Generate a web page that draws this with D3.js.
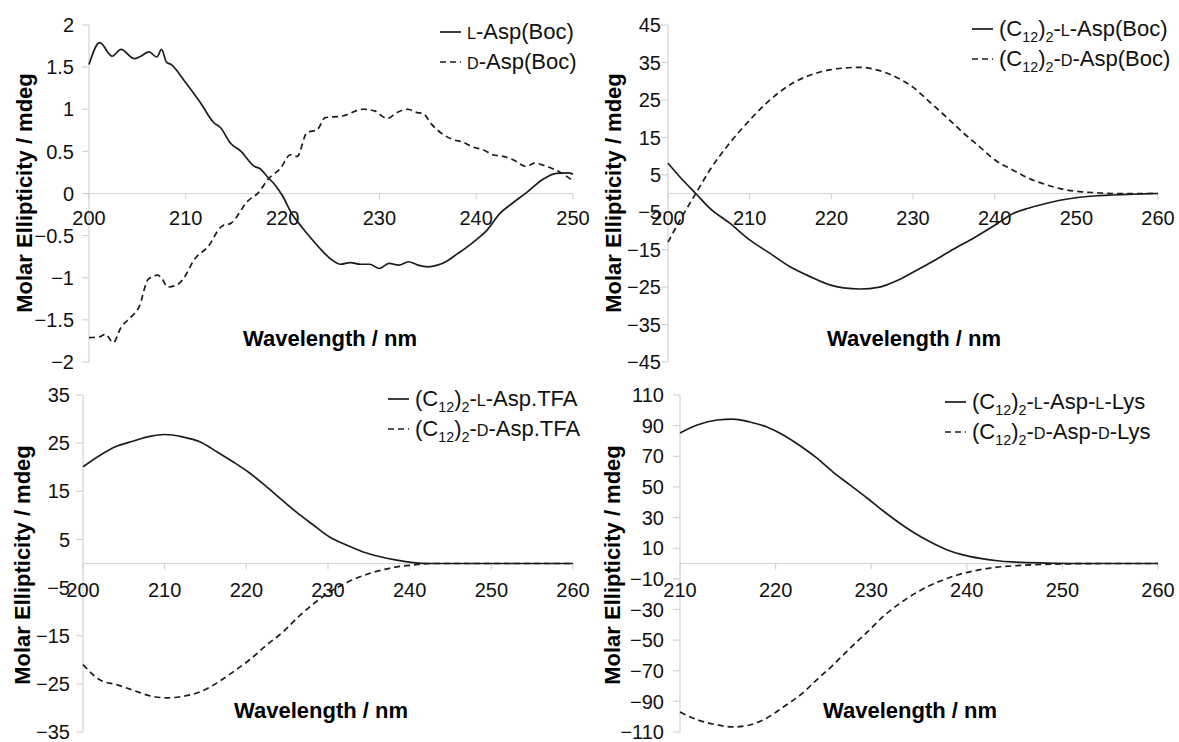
<!DOCTYPE html>
<html>
<head>
<meta charset="utf-8">
<script src="https://cdn.jsdelivr.net/npm/d3@7/dist/d3.min.js"></script>
<style>
  html, body { margin: 0; padding: 0; background: #fff; }
  svg { display: block; font-family: "Liberation Sans", Arial, sans-serif; }
</style>
</head>
<body>
<svg id="chart" width="1179" height="742"></svg>
<script>
// ---------------- DATA ----------------
// Panel 1: L-Asp(Boc) / D-Asp(Boc)
const p1_wl_L = [200,201.1,202.4,203.3,204.7,205.2,206.2,207,207.5,208,208.5,209.9,211.5,212.9,213.6,214.6,215.7,217.1,217.6,218.5,219.3,220,221,222,223,224,225,226,227,228,229,230,231,232,233,234,235,236,237,238,239,240,241,242.5,243.8,245.2,246.9,248.3,249.5,250];
const p1_L    = [1.53,1.79,1.63,1.71,1.60,1.62,1.68,1.62,1.71,1.56,1.53,1.33,1.08,0.84,0.78,0.60,0.50,0.32,0.30,0.19,0.09,-0.03,-0.25,-0.40,-0.54,-0.67,-0.78,-0.84,-0.82,-0.84,-0.84,-0.89,-0.83,-0.85,-0.81,-0.85,-0.87,-0.85,-0.80,-0.72,-0.64,-0.55,-0.45,-0.23,-0.11,0.01,0.17,0.24,0.245,0.23];
const p1_wl_D = [200,201.1,201.7,202.5,203.3,204.3,205.2,206.1,207.1,207.6,208.1,209,209.7,210.9,212.3,213.7,214.7,216.4,217.5,218.5,219.8,220.8,221.5,222.5,223.6,224.4,226.2,228.3,229.5,230.8,231.8,232.9,233.9,234.5,235.4,236.6,237.6,238.6,239.7,240.7,241.7,242.8,243.8,245.2,246,247.3,248.7,250];
const p1_D    = [-1.71,-1.70,-1.67,-1.77,-1.59,-1.47,-1.34,-1.02,-0.97,-1.02,-1.11,-1.09,-1.02,-0.78,-0.63,-0.39,-0.35,-0.09,0.01,0.17,0.30,0.46,0.44,0.72,0.76,0.90,0.92,1.00,0.98,0.89,0.96,1.00,0.96,0.95,0.82,0.70,0.64,0.61,0.55,0.52,0.46,0.44,0.40,0.32,0.36,0.32,0.25,0.15];

// Panel 2: (C12)2-L-Asp(Boc) / (C12)2-D-Asp(Boc)
const p2_wl_L = [200,201.8,203.4,205.1,207.6,210,212.5,214.9,217.4,219.8,221.5,223.5,225.9,228,230,232.5,235,237.5,240,242.2,244,246.4,248,250.4,252.5,254.5,257,260];
const p2_L    = [8.1,3.6,0,-3.9,-8,-12.4,-16,-19.5,-22.2,-24.4,-25.2,-25.5,-25,-23.3,-21,-18,-14.8,-11.8,-8.5,-5.4,-4,-2.6,-1.8,-1,-0.6,-0.4,-0.2,0];
const p2_wl_D = [200,201.5,203.4,205.1,207.6,210,212.5,214.9,217.4,219.8,221.5,223.5,225.9,228,230,232,234.1,236,238.2,240,242.2,244,246.4,248,250.4,252.5,254.5,260];
const p2_D    = [-13,-7,0,6.2,13.6,19.6,25,29,31.6,33,33.5,33.7,32.8,31,28.4,24.5,20.4,16.5,12.4,9,6.3,4.2,2.3,1.3,0.5,0.2,0,0];

// Panel 3: (C12)2-L-Asp.TFA / (C12)2-D-Asp.TFA
const p3_wl_L = [200,202.1,203.9,206.1,208.2,210,212.2,214.3,216.4,218.4,220.4,222.5,224.5,226.4,228.2,230.2,232.3,234.3,236.4,238.4,240.4,242.5,250,260];
const p3_L    = [20.1,22.5,24.2,25.4,26.4,26.8,26.3,25.3,23.2,21.1,18.8,15.9,13,10.3,8,5.5,3.8,2.4,1.4,0.7,0.2,0,0,0];
const p3_wl_D = [200,202.1,204.2,206.1,208.2,210.3,212.2,214.3,216.4,218.4,220.4,222.5,224.5,226.6,228.5,230.3,232.5,234.5,236.5,238.4,240.5,242.5,250,260];
const p3_D    = [-21,-24.2,-25.2,-26.3,-27.5,-27.9,-27.6,-26.7,-24.8,-22.5,-20,-16.9,-14.2,-10.7,-8,-5.8,-3.8,-2.4,-1.4,-0.7,-0.3,0,0,0];

// Panel 4: (C12)2-L-Asp-L-Lys / (C12)2-D-Asp-D-Lys
const p4_wl_L = [210,211.8,213.9,215.5,217.3,219.1,220.8,222.6,224.3,226,227.8,229.6,231.2,232.7,234.4,236.2,237.9,239.6,241.4,243.2,244.8,248.4,252,260];
const p4_L    = [85.2,90.4,93.7,94.3,92.4,89.1,83.9,76.7,68.9,59.7,51.2,42.6,34.6,27.6,20.4,14,9,5.6,3.3,1.8,1,0.3,0,0];
const p4_wl_D = [210,211.8,213.9,215.5,217.3,219.1,220.8,222.6,224.3,226,227.8,229.6,231.2,233,235,237,239,241,243,245,248,252,255,260];
const p4_D    = [-97,-102,-105.4,-106.7,-105.4,-100.8,-93.7,-85.8,-76,-66.3,-55.2,-44.7,-34.9,-26,-18,-12,-7.5,-4.5,-2.5,-1.5,-0.6,-0.1,0,0];

// Tick values
const p1_xticks = [200,210,220,230,240,250];
const p1_yticks = [-2,-1.5,-1,-0.5,0,0.5,1,1.5,2];
const p2_xticks = [200,210,220,230,240,250,260];
const p2_yticks = [-45,-35,-25,-15,-5,5,15,25,35,45];
const p3_xticks = [200,210,220,230,240,250,260];
const p3_yticks = [-35,-25,-15,-5,5,15,25,35];
const p4_xticks = [210,220,230,240,250,260];
const p4_yticks = [-110,-90,-70,-50,-30,-10,10,30,50,70,90,110];

// Legend labels: segments [text, kind] kind: n normal, s subscript, c small-caps
const p1_leg = [[["L","c"],["-Asp(Boc)","n"]], [["D","c"],["-Asp(Boc)","n"]]];
const p2_leg = [[["(C","n"],["12","s"],[")","n"],["2","s"],["-","n"],["L","c"],["-Asp(Boc)","n"]],
                [["(C","n"],["12","s"],[")","n"],["2","s"],["-","n"],["D","c"],["-Asp(Boc)","n"]]];
const p3_leg = [[["(C","n"],["12","s"],[")","n"],["2","s"],["-","n"],["L","c"],["-Asp.TFA","n"]],
                [["(C","n"],["12","s"],[")","n"],["2","s"],["-","n"],["D","c"],["-Asp.TFA","n"]]];
const p4_leg = [[["(C","n"],["12","s"],[")","n"],["2","s"],["-","n"],["L","c"],["-Asp-","n"],["L","c"],["-Lys","n"]],
                [["(C","n"],["12","s"],[")","n"],["2","s"],["-","n"],["D","c"],["-Asp-","n"],["D","c"],["-Lys","n"]]];

// ---------------- LAYOUT ----------------
const panels = [
  { xd:[200,250], yd:[-2,2],    x0:89,  x1:573,  y0:362, y1:25,  xt:p1_xticks, yt:p1_yticks, fmt:d3.format(""),
    L:[p1_wl_L,p1_L], D:[p1_wl_D,p1_D], leg:p1_leg, legX:440, legY:32, legDY:30,
    ylabX:24, ylabY:193, xlabX:330, xlabY:346, ytGap:15, xtY:225 },
  { xd:[200,260], yd:[-45,45],  x0:668, x1:1158, y0:362, y1:25,  xt:p2_xticks, yt:p2_yticks, fmt:d3.format(""),
    L:[p2_wl_L,p2_L], D:[p2_wl_D,p2_D], leg:p2_leg, legX:972, legY:29, legDY:30,
    ylabX:613, ylabY:193, xlabX:914, xlabY:346, ytGap:7, xtY:225 },
  { xd:[200,260], yd:[-35,35],  x0:83,  x1:573,  y0:732, y1:395, xt:p3_xticks, yt:p3_yticks, fmt:d3.format(""),
    L:[p3_wl_L,p3_L], D:[p3_wl_D,p3_D], leg:p3_leg, legX:388, legY:399, legDY:30,
    ylabX:22, ylabY:565, xlabX:321, xlabY:718, ytGap:13, xtY:597 },
  { xd:[210,260], yd:[-110,110],x0:680, x1:1158, y0:732, y1:395, xt:p4_xticks, yt:p4_yticks, fmt:d3.format(""),
    L:[p4_wl_L,p4_L], D:[p4_wl_D,p4_D], leg:p4_leg, legX:945, legY:402, legDY:30,
    ylabX:612, ylabY:565, xlabX:910, xlabY:718, ytGap:16, xtY:597 }
];

const svg = d3.select("#chart");
const AXIS = "#d4d4d4";
const INK = "#1c1c1c";
const TICKFS = 20, TITLEFS = 22, LEGFS = 22;

function writeRich(textSel, segs, fs) {
  let shifted = 0;
  segs.forEach(([t, k]) => {
    const ts = textSel.append("tspan").text(t);
    if (k === "s") {
      ts.attr("font-size", fs * 0.65).attr("dy", 6 - shifted);
      shifted = 6;
    } else {
      ts.attr("dy", -shifted);
      shifted = 0;
      if (k === "c") ts.attr("font-size", fs * 0.74);
    }
  });
}

panels.forEach(p => {
  const x = d3.scaleLinear().domain(p.xd).range([p.x0, p.x1]);
  const y = d3.scaleLinear().domain(p.yd).range([p.y0, p.y1]);
  const g = svg.append("g");

  // Y axis line + ticks
  g.append("line").attr("x1", p.x0).attr("x2", p.x0).attr("y1", y(p.yd[0])).attr("y2", y(p.yd[1]))
    .attr("stroke", AXIS).attr("stroke-width", 1.2);
  p.yt.forEach(v => {
    g.append("line").attr("x1", p.x0 - 7).attr("x2", p.x0).attr("y1", y(v)).attr("y2", y(v))
      .attr("stroke", AXIS).attr("stroke-width", 1.2);
    g.append("text").attr("x", p.x0 - p.ytGap).attr("y", y(v)).attr("dy", "0.36em")
      .attr("text-anchor", "end").attr("font-size", TICKFS).attr("fill", "#111")
      .text(p.fmt(v));
  });

  // X axis at zero + ticks
  g.append("line").attr("x1", p.x0).attr("x2", p.x1).attr("y1", y(0)).attr("y2", y(0))
    .attr("stroke", AXIS).attr("stroke-width", 1.2);
  p.xt.forEach(v => {
    g.append("line").attr("x1", x(v)).attr("x2", x(v)).attr("y1", y(0)).attr("y2", y(0) + 6)
      .attr("stroke", AXIS).attr("stroke-width", 1.2);
    g.append("text").attr("x", x(v)).attr("y", p.xtY)
      .attr("text-anchor", "middle").attr("font-size", TICKFS).attr("fill", "#111")
      .text(v);
  });

  // Titles
  g.append("text").attr("x", p.xlabX).attr("y", p.xlabY).attr("text-anchor", "middle")
    .attr("font-size", TITLEFS).attr("font-weight", "bold").attr("fill", "#000").text("Wavelength / nm");
  g.append("text").attr("transform", `translate(${p.ylabX},${p.ylabY}) rotate(-90)`)
    .attr("dy", "0.36em").attr("text-anchor", "middle")
    .attr("font-size", TITLEFS).attr("font-weight", "bold").attr("fill", "#000").text("Molar Ellipticity / mdeg");

  // Lines
  const line = d3.line().x(d => x(d[0])).y(d => y(d[1])).curve(d3.curveMonotoneX);
  const dL = p.L[0].map((w, i) => [w, p.L[1][i]]);
  const dD = p.D[0].map((w, i) => [w, p.D[1][i]]);
  g.append("path").attr("d", line(dD)).attr("fill", "none").attr("stroke", INK)
    .attr("stroke-width", 1.7).attr("stroke-dasharray", "6,4");
  g.append("path").attr("d", line(dL)).attr("fill", "none").attr("stroke", INK)
    .attr("stroke-width", 1.7);

  // Legend
  p.leg.forEach((segs, i) => {
    const cy = p.legY + i * p.legDY;
    g.append("line").attr("x1", p.legX).attr("x2", p.legX + 21).attr("y1", cy).attr("y2", cy)
      .attr("stroke", INK).attr("stroke-width", 1.7)
      .attr("stroke-dasharray", i === 1 ? "6,4" : null);
    const t = g.append("text").attr("x", p.legX + 27).attr("y", cy + 7)
      .attr("font-size", LEGFS).attr("fill", "#111");
    writeRich(t, segs, LEGFS);
  });
});
</script>
</body>
</html>
